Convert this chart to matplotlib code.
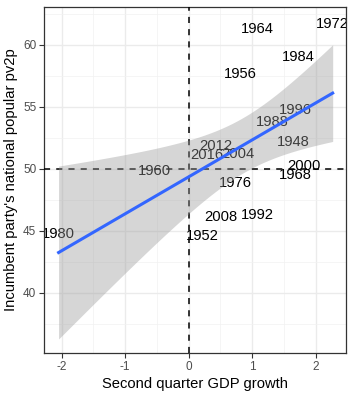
import numpy as np
import matplotlib
matplotlib.use("Agg")
import matplotlib.pyplot as plt

years = ["1948", "1952", "1956", "1960", "1964", "1968", "1972", "1976", "1980",
         "1984", "1988", "1992", "1996", "2000", "2004", "2008", "2012", "2016"]
gdp_growth = [1.65, 0.22, 0.82, -0.54, 1.09, 1.68, 2.27, 0.73, -2.05,
              1.72, 1.31, 1.09, 1.68, 1.82, 0.77, 0.51, 0.43, 0.29]
pv2p = [52.2, 44.6, 57.66, 49.8, 61.3, 49.5, 61.7, 48.85, 44.73,
        59.03, 53.77, 46.27, 54.76, 50.2, 51.2, 46.1, 51.85, 51.1]

x = np.array(gdp_growth)
y = np.array(pv2p)

plt.rcParams['font.family'] = ['Liberation Sans', 'DejaVu Sans']
plt.rcParams['axes.unicode_minus'] = False
fig = plt.figure(figsize=(3.54, 3.96), dpi=100)
ax = fig.add_axes([44/354, 1-353/396, (346-44)/354, (353-7)/396])

# labels (drawn first so ribbon overlays them)
for xi, yi, lab in zip(x, y, years):
    ax.text(xi, yi, lab, ha='center', va='center', fontsize=10.6, color='black',
            zorder=2, clip_on=True)

ax.axhline(50, color='black', linestyle=(0, (4, 4)), linewidth=1.1, zorder=3)
ax.axvline(0, color='black', linestyle=(0, (4, 4)), linewidth=1.1, zorder=3)

# linear fit + 95% CI
n = len(x)
b, a = np.polyfit(x, y, 1)
xs = np.linspace(x.min(), x.max(), 80)
ys = a + b * xs
resid = y - (a + b * x)
s = np.sqrt(np.sum(resid**2) / (n - 2))
sxx = np.sum((x - x.mean())**2)
se = s * np.sqrt(1/n + (xs - x.mean())**2 / sxx)
t = 2.1199
ax.fill_between(xs, ys - t*se, ys + t*se, color='#999999', alpha=0.4,
                linewidth=0, zorder=4)
ax.plot(xs, ys, color='#3366FF', linewidth=2.2, zorder=5)

ax.set_xlim(-2.28, 2.48)
ax.set_ylim(35.16, 63.06)
ax.set_xticks([-2, -1, 0, 1, 2])
ax.set_yticks([40, 45, 50, 55, 60])
ax.set_xticks([-1.5, -0.5, 0.5, 1.5], minor=True)
ax.set_yticks([37.5, 42.5, 47.5, 52.5, 57.5, 62.5], minor=True)
ax.grid(which='major', color='#EBEBEB', linewidth=1.0, zorder=0)
ax.grid(which='minor', color='#F2F2F2', linewidth=0.5, zorder=0)
ax.set_axisbelow(True)
ax.tick_params(which='major', length=3.5, width=0.8, color='#333333',
               labelsize=8.5, labelcolor='#4D4D4D', pad=2)
ax.tick_params(which='minor', length=0)
for sp in ax.spines.values():
    sp.set_color('#333333')
    sp.set_linewidth(0.9)

ax.set_xlabel('Second quarter GDP growth', fontsize=10.6, labelpad=3)
ax.set_ylabel("Incumbent party's national popular pv2p", fontsize=10.6, labelpad=4)

fig.savefig('out.png', dpi=100)
